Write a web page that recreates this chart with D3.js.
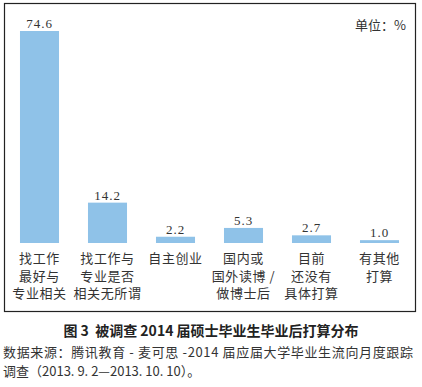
<!DOCTYPE html>
<html>
<head>
<meta charset="utf-8">
<script src="https://cdn.jsdelivr.net/npm/d3@7"></script>
<style>
  html, body { margin: 0; padding: 0; background: #fff; }
  svg { display: block; }
</style>
</head>
<body>
<div id="chart"></div>
<script>
// data
const categories = ['找工作最好与专业相关', '找工作与专业是否相关无所谓', '自主创业', '国内或国外读博/做博士后', '目前还没有具体打算', '有其他打算'];
const catLines = [
    ['找工作', '最好与', '专业相关'],
    ['找工作与', '专业是否', '相关无所谓'],
    ['自主创业'],
    ['国内或', '国外读博 /', '做博士后'],
    ['目前', '还没有', '具体打算'],
    ['有其他', '打算']
];
const values = [74.6, 14.2, 2.2, 5.3, 2.7, 1.0];
const unitLabel = '单位：%';
const title = '图 3  被调查 2014 届硕士毕业生毕业后打算分布';
const sourceLines = [
    '数据来源：腾讯教育 - 麦可思 -2014 届应届大学毕业生流向月度跟踪',
    '调查（2013. 9. 2—2013. 10. 10）。'
];

const W = 422, H = 387;
const cjk = '"Noto Sans CJK SC", sans-serif';
const numFont = '"Liberation Serif", "DejaVu Serif", serif';

const svg = d3.select('#chart').append('svg')
    .attr('width', W)
    .attr('height', H);

// frame
svg.append('rect')
    .attr('x', 4.5).attr('y', 3.5)
    .attr('width', 411).attr('height', 308)
    .attr('fill', 'none')
    .attr('stroke', '#222')
    .attr('stroke-width', 1.2);

const x = d3.scaleBand()
    .domain(categories)
    .range([5.5, 413.5])
    .paddingInner(0.426)
    .paddingOuter(0.213);

const baseY = 243;
const y = d3.scaleLinear().domain([0, 74.6]).range([baseY, 31]);

// bars
svg.selectAll('rect.bar')
    .data(values)
    .join('rect')
    .attr('class', 'bar')
    .attr('x', (d, i) => x(categories[i]))
    .attr('y', d => y(d))
    .attr('width', x.bandwidth())
    .attr('height', d => baseY - y(d))
    .attr('fill', '#8fc2e8');

// value labels
svg.selectAll('text.val')
    .data(values)
    .join('text')
    .attr('class', 'val')
    .attr('x', (d, i) => x(categories[i]) + x.bandwidth() / 2)
    .attr('y', d => y(d) - 3)
    .attr('text-anchor', 'middle')
    .attr('font-family', numFont)
    .attr('font-size', 13)
    .attr('letter-spacing', 1)
    .attr('fill', '#333')
    .text(d => d.toFixed(1));

// category labels
const catG = svg.selectAll('g.cat')
    .data(catLines)
    .join('g')
    .attr('class', 'cat')
    .attr('transform', (d, i) => `translate(${x(categories[i]) + x.bandwidth() / 2},0)`);

catG.selectAll('text')
    .data(d => d)
    .join('text')
    .attr('x', 0)
    .attr('y', (d, j) => 263 + j * 17.5)
    .attr('text-anchor', 'middle')
    .attr('font-family', cjk)
    .attr('font-size', 13)
    .attr('letter-spacing', 0.6)
    .attr('fill', '#333')
    .text(d => d);

// unit
svg.append('text')
    .attr('x', 406).attr('y', 30)
    .attr('text-anchor', 'end')
    .attr('font-family', cjk)
    .attr('font-size', 13)
    .attr('fill', '#333')
    .text(unitLabel);

// title
svg.append('text')
    .attr('x', 211).attr('y', 336)
    .attr('text-anchor', 'middle')
    .attr('font-family', cjk)
    .attr('font-size', 14)
    .attr('font-weight', 'bold')
    .attr('fill', '#222')
    .attr('xml:space', 'preserve')
    .text(title);

// source note
svg.append('text')
    .attr('x', 3).attr('y', 357)
    .attr('font-family', cjk)
    .attr('font-size', 13)
    .attr('fill', '#333')
    .attr('textLength', 410)
    .attr('lengthAdjust', 'spacing')
    .text(sourceLines[0]);

svg.append('text')
    .attr('x', 3).attr('y', 376)
    .attr('font-family', cjk)
    .attr('font-size', 13)
    .attr('fill', '#333')
    .text(sourceLines[1]);
</script>
</body>
</html>
